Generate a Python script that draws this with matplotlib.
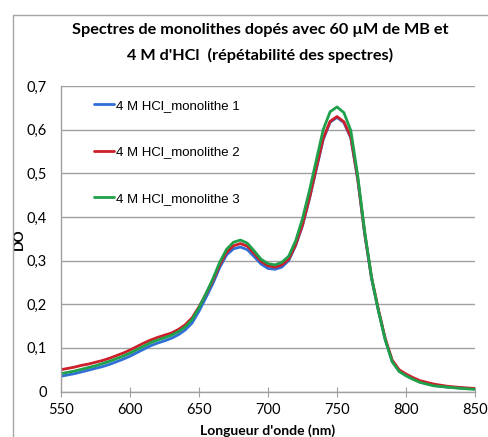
import matplotlib
matplotlib.use("Agg")
import matplotlib.pyplot as plt
from matplotlib.patches import Rectangle
from matplotlib.ticker import FuncFormatter

wavelength = [550, 555, 560, 565, 570, 575, 580, 585, 590, 595, 600, 605, 610, 615, 620, 625,
              630, 635, 640, 645, 650, 655, 660, 665, 670, 675, 680, 685, 690, 695, 700, 705,
              710, 715, 720, 725, 730, 735, 740, 745, 750, 755, 760, 765, 770, 775, 780, 785,
              790, 795, 800, 805, 810, 820, 830, 840, 850]

mono1 = [0.035, 0.038, 0.041, 0.045, 0.049, 0.053, 0.057, 0.062, 0.068, 0.074, 0.081, 0.089,
         0.097, 0.105, 0.111, 0.116, 0.122, 0.130, 0.141, 0.157, 0.184, 0.215, 0.247, 0.284,
         0.313, 0.327, 0.331, 0.325, 0.309, 0.292, 0.282, 0.280, 0.285, 0.300, 0.334, 0.380,
         0.441, 0.509, 0.577, 0.617, 0.628, 0.616, 0.581, 0.486, 0.362, 0.259, 0.185, 0.118,
         0.069, 0.047, 0.037, 0.029, 0.022, 0.014, 0.010, 0.008, 0.006]

mono2 = [0.050, 0.053, 0.056, 0.060, 0.063, 0.067, 0.071, 0.076, 0.082, 0.088, 0.095, 0.103,
         0.111, 0.118, 0.124, 0.129, 0.134, 0.142, 0.153, 0.169, 0.194, 0.223, 0.254, 0.290,
         0.319, 0.334, 0.339, 0.333, 0.316, 0.298, 0.288, 0.285, 0.290, 0.303, 0.336, 0.382,
         0.443, 0.512, 0.580, 0.619, 0.630, 0.618, 0.583, 0.488, 0.364, 0.262, 0.188, 0.121,
         0.072, 0.050, 0.040, 0.032, 0.025, 0.017, 0.012, 0.009, 0.007]

mono3 = [0.041, 0.044, 0.047, 0.051, 0.055, 0.059, 0.064, 0.069, 0.075, 0.081, 0.088, 0.096,
         0.104, 0.112, 0.118, 0.123, 0.129, 0.137, 0.148, 0.165, 0.192, 0.224, 0.258, 0.296,
         0.326, 0.342, 0.347, 0.340, 0.322, 0.303, 0.293, 0.290, 0.296, 0.310, 0.345, 0.396,
         0.460, 0.530, 0.600, 0.641, 0.652, 0.639, 0.598, 0.495, 0.368, 0.262, 0.185, 0.118,
         0.068, 0.046, 0.036, 0.028, 0.021, 0.013, 0.010, 0.007, 0.005]

labels = ["4 M HCl_monolithe 1", "4 M HCl_monolithe 2", "4 M HCl_monolithe 3"]
colors = ["#2f6fd6", "#cc1f2a", "#1fa04a"]
x_ticks = [550, 600, 650, 700, 750, 800, 850]
y_ticks = [0, 0.1, 0.2, 0.3, 0.4, 0.5, 0.6, 0.7]

W, H = 489, 437
fig = plt.figure(figsize=(W / 100, H / 100), dpi=100)
fig.patches.append(Rectangle((13 / W, -0.05), 2, 1 - 15 / H + 0.05, transform=fig.transFigure,
                             fill=False, edgecolor="#a6a6a6", linewidth=1.0))

ax = fig.add_axes([61 / W, 1 - 391.5 / H, 414 / W, 305.5 / H])
for y, lab, c in zip([mono1, mono2, mono3], labels, colors):
    ax.plot(wavelength, y, color=c, linewidth=2.0, label=lab,
            solid_capstyle="round", solid_joinstyle="round")

ax.set_xlim(550, 850)
ax.set_ylim(0, 0.7)
ax.set_xticks(x_ticks)
ax.set_yticks(y_ticks)
ax.yaxis.set_major_formatter(FuncFormatter(lambda v, p: "0" if abs(v) < 1e-9 else f"{v:.1f}".replace(".", ",")))
ax.grid(axis="y", color="#a0a0a0", linewidth=1.0)
ax.set_axisbelow(True)
for s in ["top", "right"]:
    ax.spines[s].set_visible(False)
for s in ["left", "bottom"]:
    ax.spines[s].set_color("#a0a0a0")
    ax.spines[s].set_linewidth(1.0)
ax.tick_params(axis="x", direction="inout", length=7, color="#a0a0a0", labelsize=10.5, pad=5)
ax.tick_params(axis="y", length=0, labelsize=10.5, pad=10)
for t in ax.get_xticklabels() + ax.get_yticklabels():
    t.set_fontfamily("Lato")

ax.set_xlabel("Longueur d'onde (nm)", fontsize=10, fontweight="bold", fontfamily="Lato", labelpad=5)
ax.set_ylabel("DO", fontsize=10, fontweight="bold", fontfamily="Lato", labelpad=1)

fig.text(260 / W, 1 - 30 / H, "Spectres de monolithes dopés avec 60 µM de MB et",
         ha="center", va="center", fontsize=11.7, fontweight="bold", fontfamily="Lato")
fig.text(260 / W, 1 - 55 / H, "4 M d'HCl  (répétabilité des spectres)",
         ha="center", va="center", fontsize=11.7, fontweight="bold", fontfamily="Lato")

leg = ax.legend(loc="upper left", bbox_to_anchor=(0.052, 0.995), frameon=False,
                prop={"family": "Liberation Sans", "size": 9.5}, handlelength=1.5,
                handletextpad=0.1, labelspacing=2.6)

fig.savefig("out.png", dpi=100)
